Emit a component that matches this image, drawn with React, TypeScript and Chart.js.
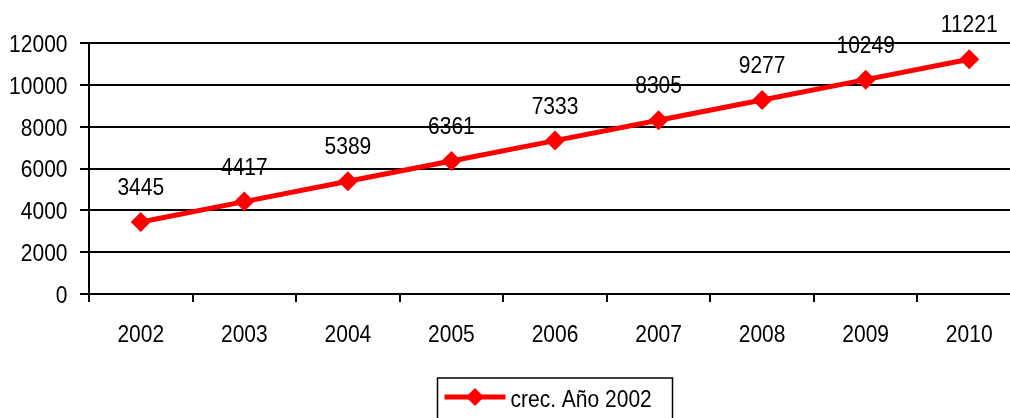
import { useEffect, useRef } from "react";
import { Chart, registerables } from "chart.js";

Chart.register(...registerables);

const categories = ["2002", "2003", "2004", "2005", "2006", "2007", "2008", "2009", "2010"];
const values = [3445, 4417, 5389, 6361, 7333, 8305, 9277, 10249, 11221];
const seriesLabel = "crec. Año 2002";
const yMin = 0;
const yMax = 12000;
const yStep = 2000;

const FONT = '"Liberation Sans", Arial, sans-serif';
const RED = "#ff0000";
const FS = 21;
const STRETCH = 1.18;
const CAP = 0.716 * FS * STRETCH;

function drawText(ctx: any, text: string, x: number, baseline: number, align: string) {
  ctx.save();
  ctx.font = `${FS}px ${FONT}`;
  ctx.fillStyle = "#000";
  ctx.textAlign = align;
  ctx.textBaseline = "alphabetic";
  ctx.translate(x, baseline);
  ctx.scale(1, STRETCH);
  ctx.fillText(text, 0, 0);
  ctx.restore();
}

const tickLabelsPlugin = {
  id: "stretchedTicks",
  afterDraw(chart: any) {
    const ctx = chart.ctx;
    const xs = chart.scales.x;
    const ys = chart.scales.y;
    xs.ticks.forEach((t: any, i: number) => {
      const px = xs.getPixelForTick(i);
      drawText(ctx, String(t.label), px, 333.5 + CAP / 2, "center");
    });
    ys.ticks.forEach((t: any, i: number) => {
      const py = ys.getPixelForTick(i);
      drawText(ctx, String(t.label), 67.5, py + CAP / 2, "right");
    });
  },
};

const dataLabelsPlugin = {
  id: "dataLabels",
  afterDatasetsDraw(chart: any) {
    const ctx = chart.ctx;
    const meta = chart.getDatasetMeta(0);
    const data = chart.data.datasets[0].data;
    meta.data.forEach((pt: any, i: number) => {
      drawText(ctx, String(data[i]), pt.x, pt.y - 27, "center");
    });
  },
};

const boxLegendPlugin = {
  id: "boxLegend",
  afterDraw(chart: any) {
    const ctx = chart.ctx;
    const ds = chart.data.datasets[0];
    const ca = chart.chartArea;
    const cx = (ca.left + ca.right) / 2;
    const w = 235;
    const left = cx - w / 2;
    const top = 378;
    ctx.save();
    ctx.strokeStyle = "#000";
    ctx.lineWidth = 1.5;
    ctx.strokeRect(left, top, w, 60);
    const ly = 397;
    ctx.strokeStyle = ds.borderColor;
    ctx.lineWidth = 5;
    ctx.beginPath();
    ctx.moveTo(left + 7, ly);
    ctx.lineTo(left + 68, ly);
    ctx.stroke();
    const dx = left + 37.5;
    const r = 9;
    ctx.fillStyle = ds.pointBackgroundColor;
    ctx.beginPath();
    ctx.moveTo(dx, ly - r);
    ctx.lineTo(dx + r, ly);
    ctx.lineTo(dx, ly + r);
    ctx.lineTo(dx - r, ly);
    ctx.closePath();
    ctx.fill();
    ctx.restore();
    drawText(ctx, ds.label, left + 73, 406.7, "left");
  },
};

export default function App() {
  const canvasRef = useRef<HTMLCanvasElement | null>(null);

  useEffect(() => {
    if (!canvasRef.current) return;
    const chart = new Chart(canvasRef.current, {
      type: "line",
      data: {
        labels: categories,
        datasets: [
          {
            label: seriesLabel,
            data: values,
            borderColor: RED,
            backgroundColor: RED,
            pointBackgroundColor: RED,
            pointBorderColor: RED,
            pointBorderWidth: 0,
            pointStyle: "rectRot",
            pointRadius: 10,
            borderWidth: 5,
            tension: 0,
            fill: false,
          },
        ],
      },
      options: {
        responsive: false,
        animation: false,
        devicePixelRatio: 1,
        layout: { padding: { left: 0, top: 43, right: 3.5, bottom: 0 } },
        plugins: {
          legend: { display: false },
          tooltip: { enabled: false },
        },
        scales: {
          x: {
            offset: true,
            afterFit: (scale: any) => {
              scale.height = 124;
            },
            grid: {
              offset: true,
              drawOnChartArea: false,
              drawTicks: true,
              tickLength: 8,
              color: "#000",
              lineWidth: 2,
            },
            border: { display: true, color: "#000", width: 2 },
            ticks: {
              color: "rgba(0,0,0,0)",
              font: { family: FONT, size: FS },
              padding: 20,
              maxRotation: 0,
              autoSkip: false,
            },
          },
          y: {
            min: yMin,
            max: yMax,
            afterFit: (scale: any) => {
              scale.width = 89;
            },
            grid: {
              color: "#000",
              lineWidth: 2,
              tickLength: 9,
              drawTicks: true,
            },
            border: { display: true, color: "#000", width: 2 },
            ticks: {
              stepSize: yStep,
              color: "rgba(0,0,0,0)",
              font: { family: FONT, size: FS },
              padding: 12,
              callback: (v: any) => String(v),
            },
          },
        },
      },
      plugins: [tickLabelsPlugin, dataLabelsPlugin, boxLegendPlugin],
    });
    return () => chart.destroy();
  }, []);

  return (
    <div
      style={{
        position: "fixed",
        left: 0,
        top: 0,
        width: 1010,
        height: 418,
        overflow: "hidden",
        background: "#fff",
      }}
    >
      <canvas ref={canvasRef} width={1031} height={418} style={{ display: "block" }} />
    </div>
  );
}
